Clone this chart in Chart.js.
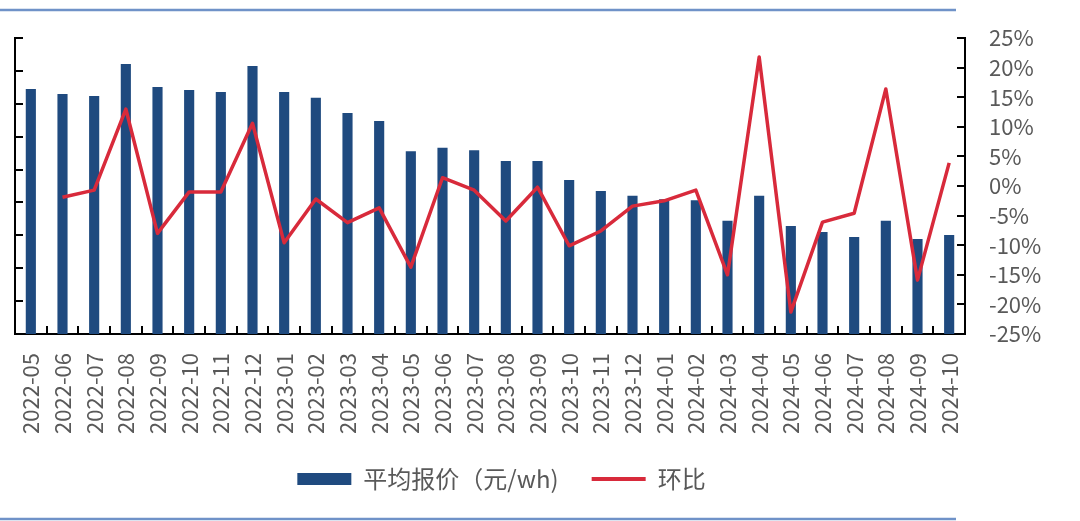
<!DOCTYPE html>
<html>
<head>
<meta charset="utf-8">
<script src="https://cdn.jsdelivr.net/npm/chart.js@4.4.1/dist/chart.umd.min.js"></script>
<style>
    html, body { margin: 0; padding: 0; background: #fff; }
    #wrap { width: 1080px; height: 521px; position: relative; }
</style>
</head>
<body>
<div id="wrap"><canvas id="chart"></canvas></div>
<script>
const months = [
    '2022-05', '2022-06', '2022-07', '2022-08', '2022-09', '2022-10', '2022-11', '2022-12',
    '2023-01', '2023-02', '2023-03', '2023-04', '2023-05', '2023-06', '2023-07', '2023-08',
    '2023-09', '2023-10', '2023-11', '2023-12', '2024-01', '2024-02', '2024-03', '2024-04',
    '2024-05', '2024-06', '2024-07', '2024-08', '2024-09', '2024-10'
];

// 平均报价 (元/wh)
const avgPrice = [
    0.745, 0.730, 0.724, 0.821, 0.751, 0.742, 0.736, 0.815,
    0.736, 0.718, 0.672, 0.648, 0.556, 0.566, 0.559, 0.526,
    0.526, 0.468, 0.435, 0.420, 0.410, 0.407, 0.344, 0.420,
    0.328, 0.310, 0.295, 0.344, 0.289, 0.301
];

// 环比
const momChange = [
    null, -0.019, -0.007, 0.130, -0.080, -0.010, -0.010, 0.106,
    -0.096, -0.022, -0.062, -0.037, -0.137, 0.014, -0.007, -0.059,
    -0.002, -0.101, -0.076, -0.034, -0.025, -0.007, -0.150, 0.218,
    -0.213, -0.061, -0.046, 0.164, -0.159, 0.039
];

const priceTicks = { min: 0, max: 0.9, step: 0.1 };
const pctTicks = { min: -0.25, max: 0.25, step: 0.05 };

const BAR_COLOR = '#1f4a7f';
const LINE_COLOR = '#d82a3b';
const TEXT_COLOR = '#595959';
const FONT = '"Noto Sans CJK SC", "Noto Sans", sans-serif';

// thin blue rules above and below the chart
const frameLines = {
    id: 'frameLines',
    beforeDraw(chart) {
        const ctx = chart.ctx;
        ctx.save();
        ctx.strokeStyle = '#6f92c8';
        ctx.lineWidth = 2.5;
        ctx.beginPath();
        ctx.moveTo(0, 10);
        ctx.lineTo(956, 10);
        ctx.moveTo(0, 519);
        ctx.lineTo(956, 519);
        ctx.stroke();
        ctx.restore();
    }
};

// tick marks point into the plot area
const innerTicks = {
    id: 'innerTicks',
    afterDraw(chart) {
        const ctx = chart.ctx;
        const len = 8;
        const x = chart.scales.x;
        const y = chart.scales.y;
        const y1 = chart.scales.y1;
        ctx.save();
        ctx.strokeStyle = '#000';
        ctx.lineWidth = 2;
        ctx.beginPath();
        for (let i = 1; i < months.length; i++) {
            const px = Math.round((x.getPixelForTick(i - 1) + x.getPixelForTick(i)) / 2);
            ctx.moveTo(px, y.bottom);
            ctx.lineTo(px, y.bottom - len);
        }
        y.ticks.forEach(function (t) {
            const py = Math.round(y.getPixelForValue(t.value));
            ctx.moveTo(y.right, py);
            ctx.lineTo(y.right + len, py);
        });
        y1.ticks.forEach(function (t) {
            const py = Math.round(y1.getPixelForValue(t.value));
            ctx.moveTo(y1.left, py);
            ctx.lineTo(y1.left - len, py);
        });
        ctx.stroke();
        ctx.restore();
    }
};

// nudge the legend row sideways to sit where the original has it
const legendShift = {
    id: 'legendShift',
    afterLayout(chart) {
        const dx = -46;
        chart.legend.left += dx;
        chart.legend.right += dx;
    }
};

const ctx = document.getElementById('chart').getContext('2d');
new Chart(ctx, {
    data: {
        labels: months,
        datasets: [
            {
                type: 'line',
                label: '环比',
                data: momChange,
                yAxisID: 'y1',
                borderColor: LINE_COLOR,
                backgroundColor: LINE_COLOR,
                borderWidth: 3.5,
                borderJoinStyle: 'round',
                pointRadius: 0,
                tension: 0,
                order: 0
            },
            {
                type: 'bar',
                label: '平均报价（元/wh)',
                data: avgPrice,
                yAxisID: 'y',
                backgroundColor: BAR_COLOR,
                barPercentage: 0.32,
                categoryPercentage: 1,
                order: 1
            }
        ]
    },
    plugins: [frameLines, innerTicks, legendShift],
    options: {
        responsive: true,
        maintainAspectRatio: false,
        animation: false,
        layout: { padding: { left: 15, top: 38, right: 0, bottom: 20 } },
        plugins: {
            tooltip: { enabled: false },
            legend: {
                position: 'bottom',
                labels: {
                    color: TEXT_COLOR,
                    font: { family: FONT, size: 24 },
                    usePointStyle: true,
                    pointStyleWidth: 54,
                    boxHeight: 12,
                    padding: 33,
                    generateLabels: function () {
                        return [
                            { text: '平均报价（元/wh)', fillStyle: BAR_COLOR, strokeStyle: BAR_COLOR, lineWidth: 0, pointStyle: 'rect', fontColor: TEXT_COLOR, datasetIndex: 1 },
                            { text: '环比', fillStyle: LINE_COLOR, strokeStyle: LINE_COLOR, lineWidth: 4, pointStyle: 'line', fontColor: TEXT_COLOR, datasetIndex: 0 }
                        ];
                    }
                }
            }
        },
        scales: {
            x: {
                grid: { display: false, drawTicks: false },
                border: { display: true, color: '#000', width: 2 },
                ticks: {
                    color: TEXT_COLOR,
                    font: { family: FONT, size: 22 },
                    minRotation: 90,
                    maxRotation: 90,
                    autoSkip: false,
                    padding: 19
                },
                afterFit: function (scale) { scale.height = 100; }
            },
            y: {
                position: 'left',
                min: priceTicks.min,
                max: priceTicks.max,
                grid: { display: false, drawTicks: false },
                border: { display: true, color: '#000', width: 2 },
                ticks: { display: false, stepSize: priceTicks.step },
                afterFit: function (scale) { scale.width = 0; }
            },
            y1: {
                position: 'right',
                min: pctTicks.min,
                max: pctTicks.max,
                grid: { display: false, drawTicks: false },
                border: { display: true, color: '#000', width: 2 },
                ticks: {
                    stepSize: pctTicks.step,
                    color: TEXT_COLOR,
                    font: { family: FONT, size: 22 },
                    padding: 24,
                    crossAlign: 'near',
                    callback: function (v) { return Math.round(v * 100) + '%'; }
                },
                afterFit: function (scale) { scale.width = 115; }
            }
        }
    }
});
</script>
</body>
</html>
